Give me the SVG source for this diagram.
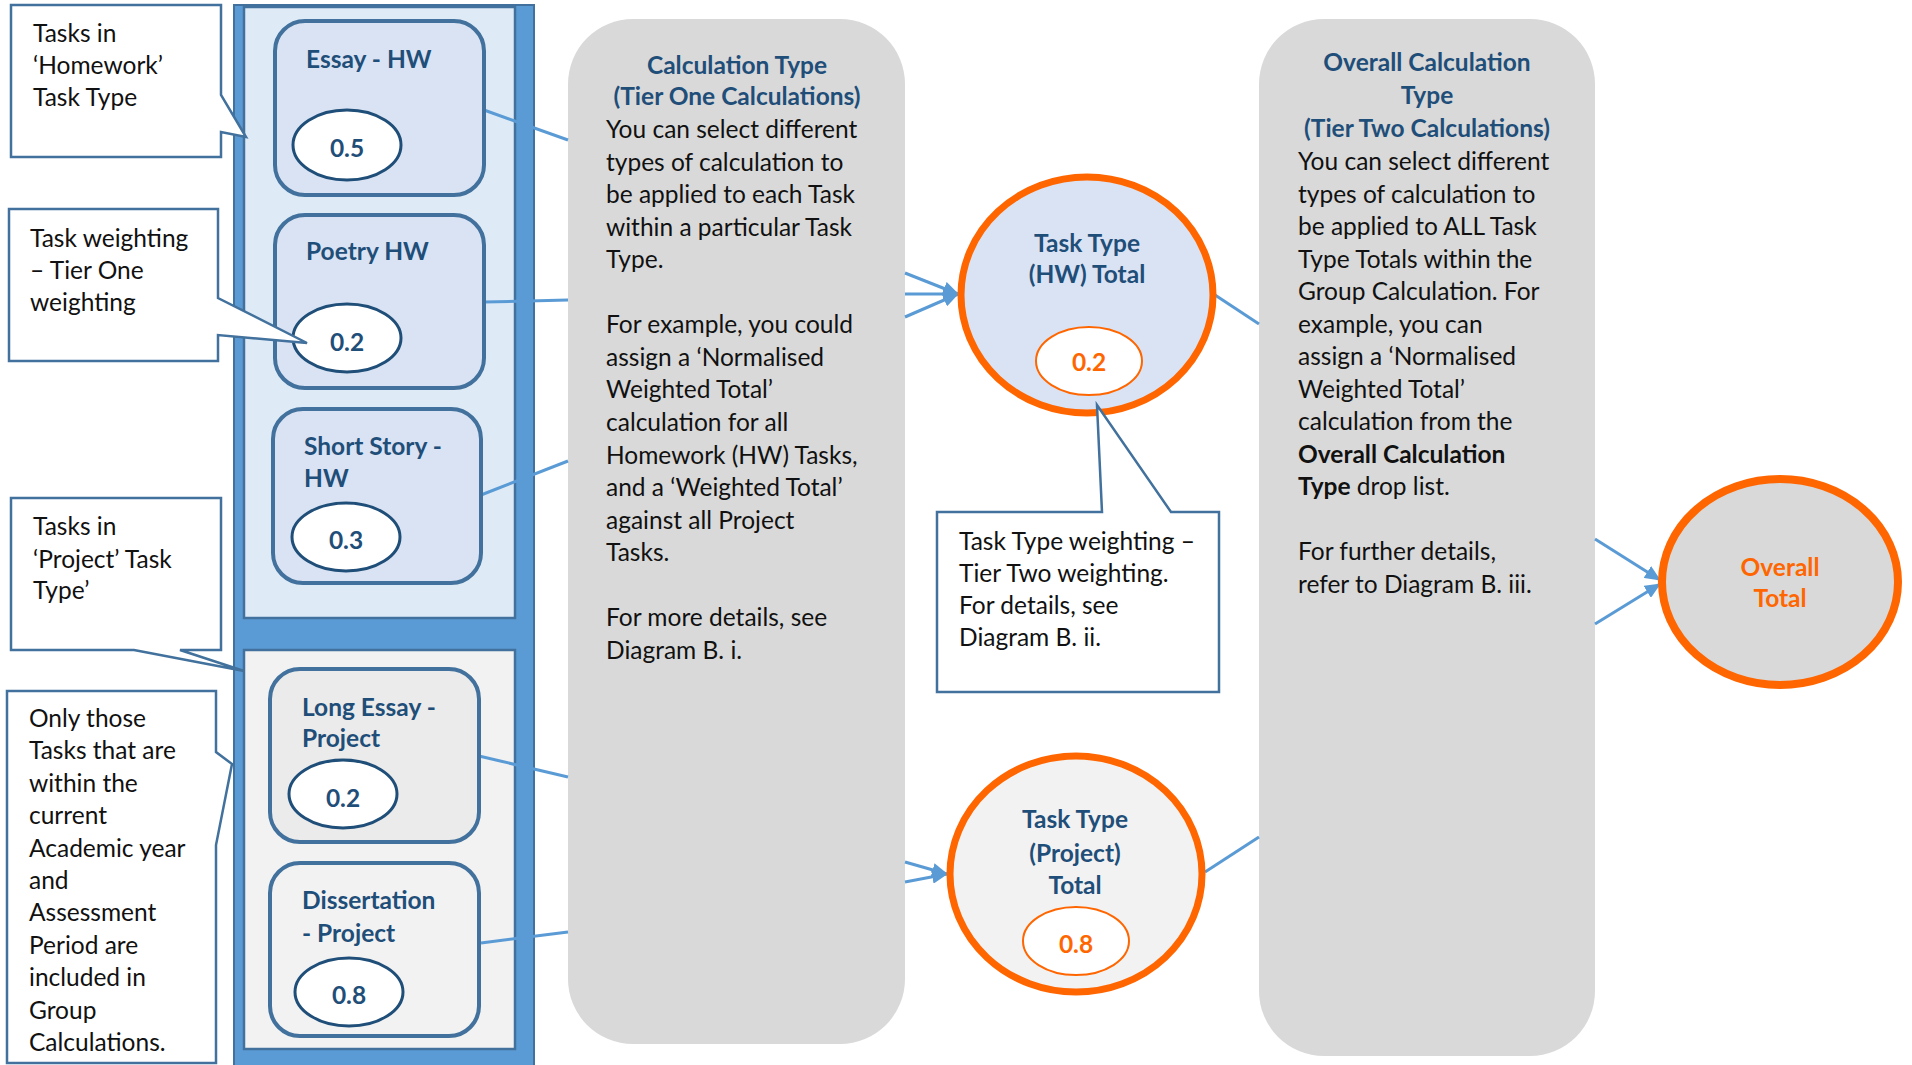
<svg xmlns="http://www.w3.org/2000/svg" width="1912" height="1065" viewBox="0 0 1912 1065">
<defs>
<style>
.t{font-family:Lato,"Liberation Sans",sans-serif;font-size:24.5px;fill:#111}
.b{font-weight:bold}
.nv{fill:#1F4E79;font-weight:bold}
.or{fill:#FF6600;font-weight:bold}
.mid{text-anchor:middle}
.call{fill:#fff;stroke:#41719C;stroke-width:2.5}
.task{stroke:#41719C;stroke-width:4}
.wt{fill:#fff;stroke:#1F4E79;stroke-width:3}
.grp{stroke:#41719C;stroke-width:2.5}
.calc{fill:#D9D9D9}
.tot{stroke:#FF6600;stroke-width:7}
.tw{fill:#fff;stroke:#FF6600;stroke-width:2}
.con line{stroke:#5B9BD5;stroke-width:3}
</style>
<marker id="arr" markerUnits="userSpaceOnUse" markerWidth="16" markerHeight="14" refX="15" refY="7" orient="auto">
<path d="M0,0 L16,7 L0,14 Z" fill="#5B9BD5"/>
</marker>
</defs>
<rect width="1912" height="1065" fill="#fff"/>

<g id="column">
<rect x="234" y="5" width="300" height="1075" fill="#5B9BD5" stroke="#41719C" stroke-width="2"/>
<rect class="grp" x="244" y="7" width="271" height="611" fill="#DEEBF7"/>
<rect class="grp" x="244" y="650" width="271" height="399" fill="#F2F2F2"/>
</g>

<g id="calc-type">
<rect class="calc" x="568" y="19" width="337" height="1025" rx="65"/>
<text class="t nv mid" x="737" y="74">Calculation Type</text>
<text class="t nv mid" x="737" y="105">(Tier One Calculations)</text>
<text class="t" x="606" y="138">You can select different</text>
<text class="t" x="606" y="171">types of calculation to</text>
<text class="t" x="606" y="203">be applied to each Task</text>
<text class="t" x="606" y="236">within a particular Task</text>
<text class="t" x="606" y="268">Type.</text>
<text class="t" x="606" y="333">For example, you could</text>
<text class="t" x="606" y="366">assign a ‘Normalised</text>
<text class="t" x="606" y="398">Weighted Total’</text>
<text class="t" x="606" y="431">calculation for all</text>
<text class="t" x="606" y="464">Homework (HW) Tasks,</text>
<text class="t" x="606" y="496">and a ‘Weighted Total’</text>
<text class="t" x="606" y="529">against all Project</text>
<text class="t" x="606" y="561">Tasks.</text>
<text class="t" x="606" y="626">For more details, see</text>
<text class="t" x="606" y="659">Diagram B. i.</text>
</g>

<g id="overall-calc-type">
<rect class="calc" x="1259" y="19" width="336" height="1037" rx="65"/>
<text class="t nv mid" x="1427" y="71">Overall Calculation</text>
<text class="t nv mid" x="1427" y="104">Type</text>
<text class="t nv mid" x="1427" y="137">(Tier Two Calculations)</text>
<text class="t" x="1298" y="170">You can select different</text>
<text class="t" x="1298" y="203">types of calculation to</text>
<text class="t" x="1298" y="235">be applied to ALL Task</text>
<text class="t" x="1298" y="268">Type Totals within the</text>
<text class="t" x="1298" y="300">Group Calculation. For</text>
<text class="t" x="1298" y="333">example, you can</text>
<text class="t" x="1298" y="365">assign a ‘Normalised</text>
<text class="t" x="1298" y="398">Weighted Total’</text>
<text class="t" x="1298" y="430">calculation from the</text>
<text class="t b" x="1298" y="463">Overall Calculation</text>
<text class="t" x="1298" y="495"><tspan class="b">Type</tspan> drop list.</text>
<text class="t" x="1298" y="560">For further details,</text>
<text class="t" x="1298" y="593">refer to Diagram B. iii.</text>
</g>

<g class="con" id="connectors">
<line x1="484" y1="110" x2="568" y2="140"/>
<line x1="484" y1="302" x2="568" y2="300"/>
<line x1="481" y1="495" x2="568" y2="461"/>
<line x1="479" y1="756" x2="568" y2="777"/>
<line x1="481" y1="943" x2="568" y2="932"/>
<line x1="905" y1="273" x2="958" y2="294" marker-end="url(#arr)"/>
<line x1="905" y1="294" x2="958" y2="294" marker-end="url(#arr)"/>
<line x1="905" y1="317" x2="958" y2="294" marker-end="url(#arr)"/>
<line x1="905" y1="862" x2="947" y2="874" marker-end="url(#arr)"/>
<line x1="905" y1="882" x2="947" y2="874" marker-end="url(#arr)"/>
<line x1="1215" y1="295" x2="1259" y2="324"/>
<line x1="1205" y1="872" x2="1259" y2="837"/>
<line x1="1595" y1="539" x2="1660" y2="580" marker-end="url(#arr)"/>
<line x1="1595" y1="624" x2="1660" y2="584" marker-end="url(#arr)"/>
</g>

<g id="essay-hw">
<rect class="task" x="275" y="21" width="209" height="174" rx="30" fill="#DAE3F3"/>
<text class="t nv" x="306" y="68">Essay - HW</text>
<ellipse class="wt" cx="347" cy="145" rx="54" ry="35"/>
<text class="t nv mid" x="347" y="157">0.5</text>
</g>
<g id="poetry-hw">
<rect class="task" x="275" y="215" width="209" height="173" rx="30" fill="#DAE3F3"/>
<text class="t nv" x="306" y="260">Poetry HW</text>
<ellipse class="wt" cx="347" cy="338" rx="54" ry="34"/>
<text class="t nv mid" x="347" y="351">0.2</text>
</g>
<g id="short-story-hw">
<rect class="task" x="273" y="409" width="208" height="174" rx="30" fill="#DAE3F3"/>
<text class="t nv" x="304" y="455">Short Story -</text>
<text class="t nv" x="304" y="487">HW</text>
<ellipse class="wt" cx="346" cy="537" rx="54" ry="34"/>
<text class="t nv mid" x="346" y="549">0.3</text>
</g>
<g id="long-essay-project">
<rect class="task" x="270" y="669" width="209" height="173" rx="30" fill="#EBEBEB"/>
<text class="t nv" x="302" y="716">Long Essay -</text>
<text class="t nv" x="302" y="747">Project</text>
<ellipse class="wt" cx="343" cy="794" rx="54" ry="34"/>
<text class="t nv mid" x="343" y="807">0.2</text>
</g>
<g id="dissertation-project">
<rect class="task" x="270" y="863" width="209" height="173" rx="30" fill="#F2F2F2"/>
<text class="t nv" x="302" y="909">Dissertation</text>
<text class="t nv" x="302" y="942">- Project</text>
<ellipse class="wt" cx="349" cy="992" rx="54" ry="34"/>
<text class="t nv mid" x="349" y="1004">0.8</text>
</g>

<g id="hw-total">
<ellipse class="tot" cx="1087" cy="295" rx="126" ry="118" fill="#DAE3F3"/>
<text class="t nv mid" x="1087" y="252">Task Type</text>
<text class="t nv mid" x="1087" y="283">(HW) Total</text>
<ellipse class="tw" cx="1089" cy="361" rx="53" ry="34"/>
<text class="t or mid" x="1089" y="371">0.2</text>
</g>
<g id="project-total">
<ellipse class="tot" cx="1076" cy="874" rx="126" ry="118" fill="#F2F2F2"/>
<text class="t nv mid" x="1075" y="828">Task Type</text>
<text class="t nv mid" x="1075" y="862">(Project)</text>
<text class="t nv mid" x="1075" y="894">Total</text>
<ellipse class="tw" cx="1076" cy="941" rx="53" ry="34"/>
<text class="t or mid" x="1076" y="953">0.8</text>
</g>
<g id="overall-total">
<ellipse cx="1780" cy="582" rx="118" ry="103" fill="#D9D9D9" stroke="#FF6600" stroke-width="8"/>
<text class="t or mid" x="1780" y="576">Overall</text>
<text class="t or mid" x="1780" y="607">Total</text>
</g>

<g id="callout-homework">
<path class="call" d="M11,5 H221 V95 L246,137 L221,132 V157 H11 Z"/>
<text class="t" x="33" y="42">Tasks in</text>
<text class="t" x="33" y="74">‘Homework’</text>
<text class="t" x="33" y="106">Task Type</text>
</g>
<g id="callout-weighting">
<path class="call" d="M9,209 H218 V298 L307,343 L218,335 V361 H9 Z"/>
<text class="t" x="30" y="247">Task weighting</text>
<text class="t" x="30" y="279">– Tier One</text>
<text class="t" x="30" y="311">weighting</text>
</g>
<g id="callout-project">
<path class="call" d="M11,498 H221 V650 H180 L244,671 L134,650 H11 Z"/>
<text class="t" x="33" y="535">Tasks in</text>
<text class="t" x="33" y="568">‘Project’ Task</text>
<text class="t" x="33" y="599">Type’</text>
</g>
<g id="callout-only">
<path class="call" d="M7,691 H216 V752 L232,764 L216,845 V1063 H7 Z"/>
<text class="t" x="29" y="727">Only those</text>
<text class="t" x="29" y="759">Tasks that are</text>
<text class="t" x="29" y="792">within the</text>
<text class="t" x="29" y="824">current</text>
<text class="t" x="29" y="857">Academic year</text>
<text class="t" x="29" y="889">and</text>
<text class="t" x="29" y="921">Assessment</text>
<text class="t" x="29" y="954">Period are</text>
<text class="t" x="29" y="986">included in</text>
<text class="t" x="29" y="1019">Group</text>
<text class="t" x="29" y="1051">Calculations.</text>
</g>
<g id="callout-tier-two">
<path class="call" d="M937,512 H1102 L1097,405 L1171,512 H1219 V692 H937 Z"/>
<text class="t" x="959" y="550">Task Type weighting –</text>
<text class="t" x="959" y="582">Tier Two weighting.</text>
<text class="t" x="959" y="614">For details, see</text>
<text class="t" x="959" y="646">Diagram B. ii.</text>
</g>
</svg>
